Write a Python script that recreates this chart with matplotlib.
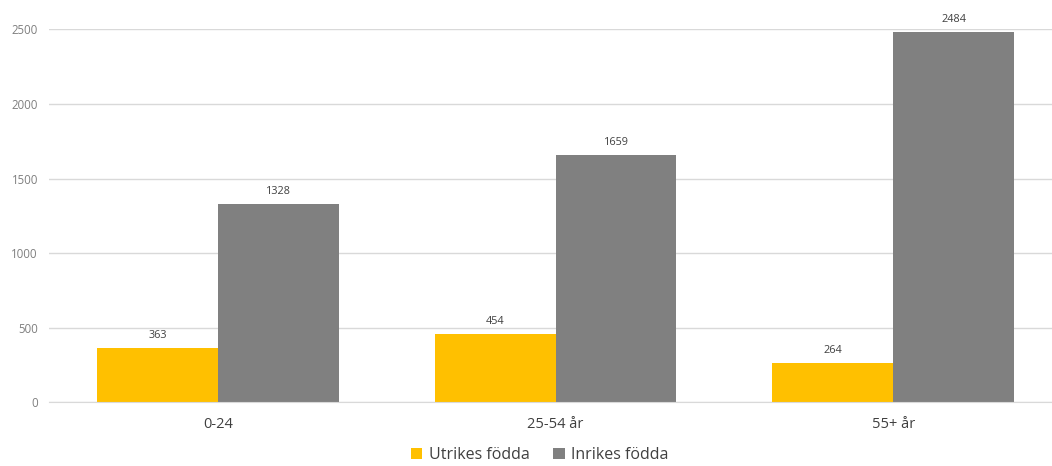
import numpy as np
import matplotlib.pyplot as plt

plt.rcParams['font.family'] = ['Open Sans', 'DejaVu Sans']

# Antal per åldersgrupp
kategorier = ['0-24', '25-54 år', '55+ år']
utrikes = [363, 454, 264]
inrikes = [1328, 1659, 2484]

gul = '#FFC000'
gra = '#808080'
rutnat = '#D9D9D9'

fig = plt.figure(figsize=(10.52, 4.66), dpi=100)
ax = fig.add_axes([0.0466, 0.1373, 0.963, 0.7994])

x = np.arange(len(kategorier))
w = 0.358
b1 = ax.bar(x - w / 2, utrikes, w, color=gul, label='Utrikes födda', zorder=2)
b2 = ax.bar(x + w / 2, inrikes, w, color=gra, label='Inrikes födda', zorder=2)

for bars in (b1, b2):
    ax.bar_label(bars, padding=5, fontsize=7.8, color='#404040')

ax.set_xlim(-0.5, len(kategorier) - 0.5)
ax.set_ylim(0, 2500)
ax.set_yticks(range(0, 2501, 500))
ax.set_xticks(x)
ax.set_xticklabels(kategorier, fontsize=10.5, color='#404040')
ax.tick_params(axis='y', labelsize=8.3, colors='#7f7f7f', length=0, pad=8)
ax.tick_params(axis='x', length=0, pad=11)

ax.grid(axis='y', color=rutnat, linewidth=1, zorder=0)
for s in ['top', 'right', 'left']:
    ax.spines[s].set_visible(False)
ax.spines['bottom'].set_color(rutnat)
ax.spines['bottom'].set_zorder(3)

fig.legend(loc='center', bbox_to_anchor=(0.513, 0.024), ncol=2, frameon=False,
           fontsize=11.5, handlelength=0.7, handleheight=0.7, handletextpad=0.4,
           columnspacing=1.5, labelcolor='#404040', borderpad=0.1)

fig.savefig('out.png', dpi=100)
